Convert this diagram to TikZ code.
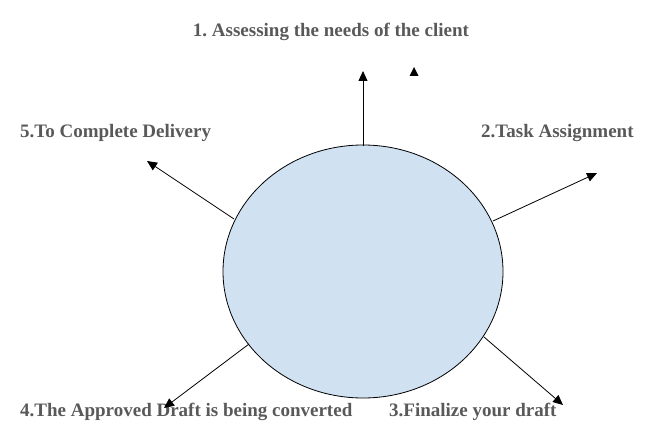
\documentclass[tikz,border=0pt]{standalone}
\usepackage{fontspec}
\setmainfont{Liberation Serif}
\usetikzlibrary{arrows.meta,shapes.geometric,calc}
\definecolor{txtgray}{HTML}{595959}
\definecolor{ellfill}{HTML}{D0E1F2}
\frenchspacing
\tikzset{
  lbl/.style={font=\fontsize{19}{21}\selectfont\bfseries, text=txtgray, inner sep=0pt},
  arr/.style={draw=black, line width=0.8pt, -{Triangle[length=10pt,width=9pt]}}
}
\begin{document}
\begin{tikzpicture}[x=1pt,y=-1pt]
\useasboundingbox (0,0) rectangle (663,446);
\node[draw=black, line width=0.8pt, fill=ellfill, ellipse, minimum width=280pt, minimum height=253pt, inner sep=0pt] (c) at (363,271.5) {};
\node[lbl] (t1) at (331,32) {1. Assessing the needs of the client};
\node[lbl, anchor=west] (t2) at (481,133) {2.Task Assignment};
\node[lbl, anchor=west] (t5) at (20,133) {5.To Complete Delivery};
\node[lbl, anchor=west] (t4) at (20,412) {4.The Approved Draft is being converted};
\node[lbl, anchor=west] (t3) at (389,412) {3.Finalize your draft};
\coordinate (a1s) at (363,146);
\coordinate (a1e) at (363,71);
\coordinate (a2s) at (493,221);
\coordinate (a2e) at (597,173);
\coordinate (a3s) at (484,337);
\coordinate (a3e) at (563,405);
\coordinate (a4s) at (249,344);
\coordinate (a4e) at (164,408);
\coordinate (a5s) at (234,219);
\coordinate (a5e) at (147,161);
\draw[arr] (a1s) -- (a1e);
\draw[arr] (a2s) -- (a2e);
\draw[arr] (a3s) -- (a3e);
\draw[arr] (a4s) -- (a4e);
\draw[arr] (a5s) -- (a5e);
\coordinate (tri) at (414,72);
\fill[black] ($(tri)+(0,-5)$) -- ($(tri)+(4.5,4)$) -- ($(tri)+(-4.5,4)$) -- cycle;
\end{tikzpicture}
\end{document}
